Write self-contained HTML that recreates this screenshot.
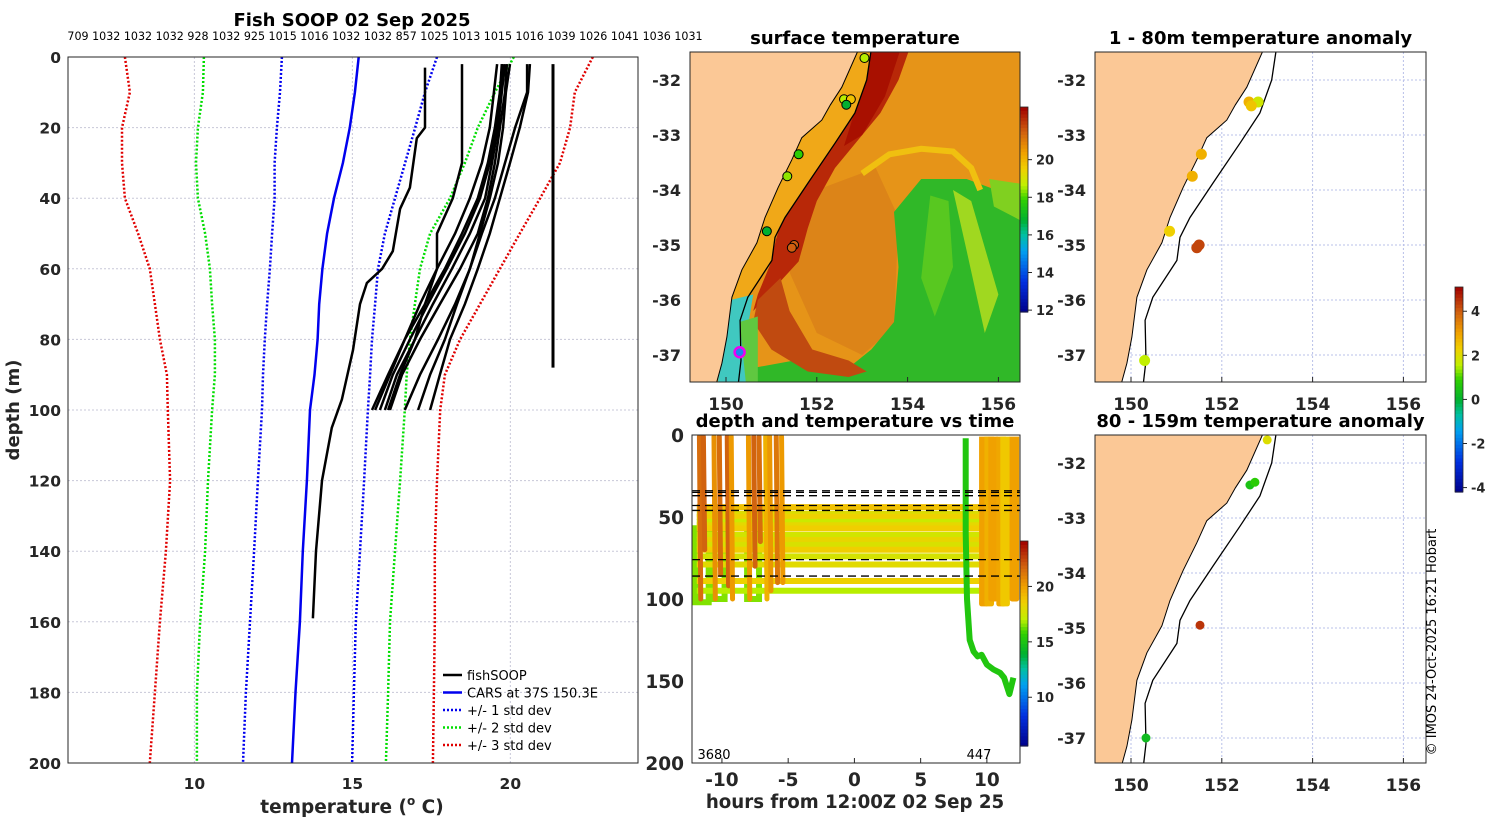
<!DOCTYPE html>
<html><head><meta charset="utf-8">
<style>
html,body{margin:0;padding:0;background:#fff;}
svg{display:block;font-family:"DejaVu Sans","Liberation Sans",sans-serif;}
.tk{font-size:15.5px;font-weight:bold;fill:#262626;}
.ttl{font-size:18px;font-weight:bold;fill:#000;}
</style></head>
<body>
<svg id="fig" width="1500" height="820" viewBox="0 0 1500 820" xmlns="http://www.w3.org/2000/svg">
<defs>
<clipPath id="c1"><rect x="690" y="52" width="330" height="330"/></clipPath>
<clipPath id="c2"><rect x="1095" y="52" width="331" height="330"/></clipPath>
<clipPath id="c3"><rect x="1095" y="435" width="331" height="328"/></clipPath>
<clipPath id="ct"><rect x="692" y="435" width="328" height="328"/></clipPath>
</defs>
<g id="main"></g>
<g id="map1"></g>
<g id="tchart"></g>
<g id="map2"></g>
<g id="map3"></g>
<text x="1436" y="642" transform="rotate(-90 1436 642)" text-anchor="middle" font-size="13" fill="#000">© IMOS 24-Oct-2025 16:21 Hobart</text>
</svg>
<script>
// ---------- data ----------
const depths = [0,10,20,30,40,50,60,70,80,90,100,120,140,160,180,200];
const carsMean = [15.2,15.08,14.92,14.7,14.42,14.2,14.05,13.95,13.9,13.8,13.66,13.56,13.43,13.34,13.2,13.09];
const std1Lo = [12.77,12.71,12.61,12.54,12.54,12.46,12.39,12.30,12.23,12.17,12.14,12.01,11.89,11.76,11.63,11.54];
const std1Hi = [17.68,17.30,16.99,16.67,16.35,16.03,15.81,15.72,15.62,15.56,15.49,15.37,15.24,15.11,15.05,14.99];
const std2Lo = [10.30,10.27,10.11,10.05,10.11,10.34,10.49,10.56,10.65,10.65,10.56,10.43,10.34,10.18,10.08,10.08];
const std2Hi = [20.11,19.51,18.97,18.56,18.09,17.46,17.14,16.98,16.82,16.72,16.66,16.51,16.35,16.19,16.13,16.06];
const std3Lo = [7.80,7.96,7.71,7.71,7.80,8.22,8.59,8.75,8.91,9.13,9.16,9.23,9.10,8.91,8.75,8.59];
const std3Hi = [22.61,22.04,21.89,21.57,20.94,20.30,19.67,19.04,18.41,17.93,17.78,17.68,17.61,17.61,17.58,17.55];
const profDepths = [2,10,20,30,40,50,60,70,80,90,100];
const profiles = [
 [19.58,19.48,19.35,19.10,18.72,18.25,17.68,17.14,16.66,16.19,15.72],
 [19.73,19.67,19.58,19.35,19.04,18.56,17.99,17.39,16.82,16.28,15.87],
 [19.83,19.73,19.61,19.42,19.20,18.72,18.15,17.55,16.98,16.41,16.03],
 [19.89,19.83,19.67,19.51,19.29,18.97,18.41,17.77,17.14,16.57,16.19],
 [19.77,19.67,19.51,19.29,18.97,18.47,17.93,17.30,16.66,16.13,15.62],
 [20.53,20.53,20.15,19.83,19.51,19.10,18.72,18.25,17.71,17.14,16.66],
 [20.62,20.56,20.30,19.99,19.67,19.35,18.97,18.56,18.09,17.77,17.46],
 [19.99,19.86,19.77,19.61,19.35,19.04,18.72,18.31,17.93,17.46,17.08],
 [18.47,18.47,18.47,18.47,18.18,17.68,17.68,17.30,16.98,16.51,16.13]
];
const profADepth = [3,20,23,37,43,55,60,64,70,83,97,105,120,140,159];
const profATemp = [17.30,17.30,17.04,16.82,16.51,16.28,15.94,15.46,15.24,15.02,14.67,14.35,14.04,13.85,13.75];
const profCDepth = [2,88];
const profCTemp = [21.35,21.35];
const headerCounts = ["709","1032","1032","1032","928","1032","925","1015","1016","1032","1032","857","1025","1013","1015","1016","1039","1026","1041","1036","1031"];
const tempTicks = [10,15,20];
const depthTicks = [0,20,40,60,80,100,120,140,160,180,200];

// maps
const coastLon = [152.95,152.89,152.55,152.3,152.11,151.67,151.45,151.15,150.86,150.68,150.35,150.13,150.02,149.91,149.76];
const coastLat = [-31.3,-31.5,-32.13,-32.45,-32.73,-33.05,-33.45,-33.95,-34.5,-34.96,-35.45,-35.95,-36.67,-37.15,-37.6];
const isoLon = [153.22,153.19,153.1,152.84,152.4,151.81,151.3,151.08,151.01,150.48,150.31,150.33,150.26];
const isoLat = [-31.3,-31.5,-32,-32.6,-33.15,-33.87,-34.5,-34.86,-35.28,-35.95,-36.37,-37.1,-37.6];
const sstLon = [153.05,152.6,152.75,152.65,151.6,151.35,150.9,151.5,151.45];
const sstLat = [-31.6,-32.35,-32.35,-32.45,-33.35,-33.75,-34.75,-35.0,-35.05];
const sstVal = [18.6,18.6,19.8,16.8,17.8,18.4,16.8,21.5,21.5];
const anomLon1 = [152.6,152.8,152.65,151.55,151.35,150.85,151.5,151.45,150.3];
const anomLat1 = [-32.4,-32.4,-32.47,-33.35,-33.75,-34.75,-35.0,-35.05,-37.1];
const anomVal1 = [2.8,1.8,2.5,2.8,2.8,2.3,4.3,4.3,1.6];
const anomLon2 = [153.0,152.62,152.73,151.52,150.33];
const anomLat2 = [-31.58,-32.4,-32.35,-34.95,-37.0];
const anomVal2 = [2.0,0.5,0.8,4.5,0.3];
const lonTicks = [150,152,154,156];
const latTicks = [-32,-33,-34,-35,-36,-37];
const sstTicks = [12,14,16,18,20];
const anomTicks = [-4,-2,0,2,4];

// depth-time chart
const towDepth = [44,48,50,53,55,57,61,64,67,70,74,79,89,95];
const towTemp = [19.0,18.0,18.5,17.4,18.2,18.6,17.6,18.3,17.8,18.6,17.7,18.1,18.5,17.0];
const diveHour = [-11.7,-11.4,-10.6,-10.2,-9.6,-9.3,-8.0,-7.6,-7.2,-6.7,-6.4,-5.9,-5.5];
const diveBottom = [100,70,100,85,92,100,100,80,65,100,95,90,90];
const diveTemp = [21.5,21.8,20.5,21.5,21.8,20.2,20.2,21.8,21.5,19.5,20.3,21.2,20.2];
const loopStart = [-12.0,-10.7,-8.1];
const loopEnd = [-11.0,-9.8,-7.2];
const loopDepth = [102,100,100];
const rDiveHour = [9.6,10.0,10.3,10.9,11.2,11.9];
const rDiveBottom = [103,103,100,103,103,100];
const rDiveTemp = [20,19.5,20,19.8,18.8,20];
const greenHour = [8.4,8.4,8.5,8.7,9.0,9.3,9.6,10.0,10.5,11.0,11.3,11.7,12.0];
const greenDepth = [2,60,100,125,132,135,134,140,143,145,148,158,148];
const dashDepth = [34,35,37,43,46,76,86];
const hourTicks = [-10,-5,0,5,10];
const tDepthTicks = [0,50,100,150,200];
const tcbTicks = [10,15,20];

// ---------- helpers ----------
const NS="http://www.w3.org/2000/svg";
function mk(parent,tag,attrs,name,txt){
  const e=document.createElementNS(NS,tag);
  for(const k in attrs){ if(k==='font-size') e.style.fontSize=attrs[k]+'px'; else e.setAttribute(k,attrs[k]); }
  
  
  if(txt!==undefined) e.textContent=txt;
  parent.appendChild(e); return e;
}
const stops=[[0,[0,0,138]],[0.15,[0,48,224]],[0.3,[0,160,240]],[0.38,[0,192,160]],[0.45,[0,176,48]],[0.55,[48,208,0]],[0.62,[192,240,0]],[0.7,[240,208,0]],[0.78,[240,160,0]],[0.88,[208,96,16]],[1,[160,0,0]]];
function cmap(f){
  f=Math.max(0,Math.min(1,f));
  for(let i=1;i<stops.length;i++){ if(f<=stops[i][0]){const a=stops[i-1],b=stops[i];const t=(f-a[0])/(b[0]-a[0]);
    const c=a[1].map((v,j)=>Math.round(v+(b[1][j]-v)*t));return `rgb(${c[0]},${c[1]},${c[2]})`;}}
  return 'rgb(160,0,0)';
}
function poly(xs,ys){return xs.map((x,i)=>(i?'L':'M')+x.toFixed(1)+','+ys[i].toFixed(1)).join('');}

// ---------- main profile chart ----------
(function(){
  const g=document.getElementById('main');
  const X0=68,X1=638,Y0=57,Y1=763,tMin=6,tMax=24.04;
  const sx=t=>X0+(t-tMin)/(tMax-tMin)*(X1-X0);
  const sy=d=>Y0+d/200*(Y1-Y0);
  tempTicks.forEach(t=>{mk(g,'line',{x1:sx(t),x2:sx(t),y1:Y0,y2:Y1,stroke:'#c8c8d8','stroke-dasharray':'2,2','stroke-width':1},'x-gridline');
    mk(g,'text',{x:sx(t),y:789,'text-anchor':'middle',class:'tk'},'x-tick-label',String(t));});
  depthTicks.forEach(d=>{ if(d>0&&d<200) mk(g,'line',{x1:X0,x2:X1,y1:sy(d),y2:sy(d),stroke:'#c8c8d8','stroke-dasharray':'2,2','stroke-width':1},'y-gridline');
    mk(g,'text',{x:61,y:sy(d)+6,'text-anchor':'end',class:'tk'},'y-tick-label',String(d));});
  const lines=[[std3Lo,'#e00000','red-std3-low'],[std3Hi,'#e00000','red-std3-high'],[std2Lo,'#00dd00','green-std2-low'],[std2Hi,'#00dd00','green-std2-high'],[std1Lo,'#0000ee','blue-std1-low'],[std1Hi,'#0000ee','blue-std1-high']];
  lines.forEach(([arr,c,n])=>mk(g,'path',{d:poly(arr.map(sx),depths.map(sy)),fill:'none',stroke:c,'stroke-width':2.5,'stroke-dasharray':'2,2'},n));
  mk(g,'path',{d:poly(carsMean.map(sx),depths.map(sy)),fill:'none',stroke:'#0000ee','stroke-width':2.5},'cars-line');
  profiles.forEach(p=>mk(g,'path',{d:poly(p.map(sx),profDepths.map(sy)),fill:'none',stroke:'#000','stroke-width':2.5},'fishsoop-profile'));
  mk(g,'path',{d:poly(profATemp.map(sx),profADepth.map(sy)),fill:'none',stroke:'#000','stroke-width':2.5},'fishsoop-profile-deep');
  mk(g,'path',{d:poly(profCTemp.map(sx),profCDepth.map(sy)),fill:'none',stroke:'#000','stroke-width':3},'fishsoop-profile-warm');
  mk(g,'rect',{x:X0,y:Y0,width:X1-X0,height:Y1-Y0,fill:'none',stroke:'#262626','stroke-width':1},'plot-frame');
  mk(g,'text',{x:352,y:26,'text-anchor':'middle',class:'ttl'},'chart-title','Fish SOOP 02 Sep 2025');
  mk(g,'text',{x:385,y:40,'text-anchor':'middle','font-size':11.1,fill:'#000'},'sample-counts',headerCounts.join(' '));
  const xl=mk(g,'text',{x:352,y:813,'text-anchor':'middle',class:'tk','font-size':18.5},'x-axis-title');
  xl.innerHTML='temperature (<tspan font-size="12" dy="-8">o</tspan><tspan dy="8"> C)</tspan>';
  mk(g,'text',{x:19,y:410,'text-anchor':'middle',class:'tk','font-size':18,transform:'rotate(-90 19 410)'},'y-axis-title','depth (m)');
  const leg=[['#000','','fishSOOP'],['#0000ee','','CARS at 37S 150.3E'],['#0000ee','2,2','+/- 1 std dev'],['#00dd00','2,2','+/- 2 std dev'],['#e00000','2,2','+/- 3 std dev']];
  leg.forEach((l,i)=>{const y=675+i*17.5;
    mk(g,'line',{x1:443,x2:462,y1:y,y2:y,stroke:l[0],'stroke-width':2.5,'stroke-dasharray':l[1]||'none'},'legend-swatch');
    mk(g,'text',{x:467,y:y+5,'font-size':13,fill:'#000'},'legend-entry',l[2]);});
})();

// ---------- maps ----------
function drawMap(g,clip,X0,Y0,W,H,lon150x,lat32y,opts){
  const sx=lon=>lon150x+(lon-150)*45.4, sy=lat=>lat32y-(lat+32)*55;
  const cg=mk(g,'g',{'clip-path':`url(#${clip})`},'map-area');
  mk(cg,'rect',{x:X0,y:Y0,width:W,height:H,fill:opts.ocean},'ocean');
  if(opts.sst) opts.sst(cg,sx,sy);
  if(opts.grid){
    lonTicks.forEach(l=>mk(cg,'line',{x1:sx(l),x2:sx(l),y1:Y0,y2:Y0+H,stroke:'#b8c0e8','stroke-dasharray':'2,2'},'lon-gridline'));
    latTicks.forEach(l=>mk(cg,'line',{x1:X0,x2:X0+W,y1:sy(l),y2:sy(l),stroke:'#b8c0e8','stroke-dasharray':'2,2'},'lat-gridline'));
  }
  const lx=coastLon.map(sx).concat([X0-5,X0-5]), ly=coastLat.map(sy).concat([Y0+H+20,Y0-20]);
  mk(cg,'path',{d:poly(lx,ly)+'Z',fill:'#fbc896',stroke:'#000','stroke-width':1},'land');
  mk(cg,'path',{d:poly(isoLon.map(sx),isoLat.map(sy)),fill:'none',stroke:'#000','stroke-width':1.3},'shelf-contour');
  opts.dots(cg,sx,sy);
  mk(g,'rect',{x:X0,y:Y0,width:W,height:H,fill:'none',stroke:'#262626'},'map-frame');
  lonTicks.forEach(l=>{mk(g,'line',{x1:sx(l),x2:sx(l),y1:Y0+H,y2:Y0+H-5,stroke:'#262626'},'lon-tick');
    mk(g,'text',{x:sx(l),y:Y0+H+28,'text-anchor':'middle',class:'tk','font-size':17},'lon-tick-label',String(l));});
  latTicks.forEach(l=>mk(g,'text',{x:X0-9,y:sy(l)+6,'text-anchor':'end',class:'tk','font-size':16},'lat-tick-label',String(l)));
  mk(g,'text',{x:X0+W/2,y:Y0-8,'text-anchor':'middle',class:'ttl'},'map-title',opts.title);
}
function colorbar(g,x,y0,y1,vmin,vmax,ticks,name){
  const n=60,h=(y1-y0)/n;
  for(let i=0;i<n;i++) mk(g,'rect',{x:x,y:y1-(i+1)*h,width:8,height:h+0.6,fill:cmap((i+0.5)/n)},name+'-step');
  mk(g,'rect',{x:x,y:y0,width:8,height:y1-y0,fill:'none',stroke:'#262626','stroke-width':0.8},name+'-frame');
  ticks.forEach(t=>{const y=y1-(t-vmin)/(vmax-vmin)*(y1-y0);
    mk(g,'line',{x1:x+8,x2:x+12,y1:y,y2:y,stroke:'#262626'},name+'-tick');
    mk(g,'text',{x:x+16,y:y+5,class:'tk','font-size':13},name+'-label',String(t));});
}
const sstMin=11.9,sstMax=22.8, anMin=-4.2, anMax=5.1;
function sstBackground(cg,sx,sy){
  const P=(lons,lats,fill,n)=>mk(cg,'path',{d:poly(lons.map(sx),lats.map(sy))+'Z',fill:fill},n);
  P([152.0,153.3,153.8,153.7,153.0,152.0,151.4],[-34.0,-33.6,-34.5,-36.5,-37.0,-36.6,-35.5],'#dc8418','eddy-core');
  P([153.7,154.3,155.3,156.6,156.6,153.4,152.6,153.2,153.7,153.8],[-34.4,-33.8,-33.8,-34.2,-37.6,-37.6,-37.3,-36.9,-36.4,-35.4],'#30b828','cool-water');
  P([154.5,154.9,155.0,154.6,154.3],[-34.1,-34.2,-35.4,-36.3,-35.6],'#58c820','cool-streak');
  P([155.0,155.4,156.0,155.7,155.3],[-34.0,-34.2,-35.9,-36.6,-35.1],'#a0d820','cool-streak-2');
  P([155.8,156.6,156.6,155.9],[-33.8,-33.9,-34.6,-34.3],'#80d020','cool-streak-3');
  P([150.5,151.5,152.6,153.4,153.4,150.4],[-37.25,-37.1,-37.3,-37.3,-37.6,-37.6],'#30b828','south-cool');
  mk(cg,'path',{d:poly([153.0,153.6,154.3,155.0,155.4,155.6].map(sx),[-33.7,-33.35,-33.25,-33.3,-33.6,-34.0].map(sy)),fill:'none',stroke:'#f0c010','stroke-width':6},'eddy-front');
  P([153.05,153.0,152.9,152.6,152.2,151.7,151.3,151.1,151.0,150.7,150.6,151.6,151.7,151.8,152.0,152.4,152.9,153.4,153.8,154.1],
    [-31.3,-31.5,-32.0,-32.6,-33.1,-33.8,-34.4,-34.9,-35.3,-35.9,-36.2,-35.3,-35.0,-34.7,-34.2,-33.6,-33.1,-32.6,-32.0,-31.3],'#b82808','current-band');
  P([153.1,153.9,153.5,153.0,152.6,152.9],[-31.3,-31.3,-32.3,-33.0,-33.2,-32.4],'#a81000','current-core');
  P([150.7,151.2,151.4,151.9,152.7,153.1,152.7,151.8,151.0,150.6],[-36.0,-35.6,-36.2,-36.9,-37.1,-37.3,-37.4,-37.3,-36.9,-36.4],'#c04a10','eddy-rim');
  const sLon=coastLon.concat(isoLon.slice().reverse()), sLat=coastLat.concat(isoLat.slice().reverse());
  P(sLon,sLat,'#f0a818','shelf-water');
  P([150.1,150.6,150.5,150.45,149.8],[-36.0,-35.9,-36.4,-37.6,-37.6],'#40c8c0','coastal-cold');
  P([150.3,150.7,150.7,150.45],[-36.4,-36.3,-37.6,-37.6],'#60c840','coastal-green');
}
(function(){
  const g=document.getElementById('map1');
  drawMap(g,'c1',690,52,330,330,726,80,{ocean:'#e69418',title:'surface temperature',sst:sstBackground,grid:false,
    dots:(cg,sx,sy)=>{sstLon.forEach((l,i)=>mk(cg,'circle',{cx:sx(l),cy:sy(sstLat[i]),r:4.5,fill:cmap((sstVal[i]-sstMin)/(sstMax-sstMin)),stroke:'#000','stroke-width':1},'profile-location'));
      mk(cg,'circle',{cx:sx(150.3),cy:sy(-36.95),r:5,fill:'#2080f0',stroke:'#f000f0','stroke-width':2.5},'current-location');}});
  colorbar(g,1020,107,312,sstMin,sstMax,sstTicks,'sst-colorbar');
})();
(function(){
  const g=document.getElementById('map2');
  drawMap(g,'c2',1095,52,331,330,1131,80,{ocean:'#fff',title:'1 - 80m temperature anomaly',grid:true,
    dots:(cg,sx,sy)=>anomLon1.forEach((l,i)=>mk(cg,'circle',{cx:sx(l),cy:sy(anomLat1[i]),r:5.5,fill:cmap((anomVal1[i]-anMin)/(anMax-anMin))},'anomaly-point'))});
  colorbar(g,1455,287,492,anMin,anMax,anomTicks,'anomaly-colorbar');
})();
(function(){
  const g=document.getElementById('map3');
  drawMap(g,'c3',1095,435,331,328,1131,463,{ocean:'#fff',title:'80 - 159m temperature anomaly',grid:true,
    dots:(cg,sx,sy)=>anomLon2.forEach((l,i)=>mk(cg,'circle',{cx:sx(l),cy:sy(anomLat2[i]),r:4.5,fill:cmap((anomVal2[i]-anMin)/(anMax-anMin))},'anomaly-point'))});
})();

// ---------- depth-time chart ----------
(function(){
  const g=document.getElementById('tchart');
  const X0=692,X1=1020,Y0=435,Y1=763,hMin=-12.26,hMax=12.5,tMin=5.6,tMax=24.1;
  const sx=h=>X0+(h-hMin)/(hMax-hMin)*(X1-X0), sy=d=>Y0+d/200*(Y1-Y0);
  const col=t=>cmap((t-tMin)/(tMax-tMin));
  const cg=mk(g,'g',{'clip-path':'url(#ct)'},'plot-area');
  loopStart.forEach((h,i)=>mk(cg,'path',{d:`M${sx(h)},${sy(55)}L${sx(h)},${sy(loopDepth[i])}L${sx(loopEnd[i])},${sy(loopDepth[i])}L${sx(loopEnd[i])},${sy(55)}`,fill:'none',stroke:col(16.5),'stroke-width':6},'dive-bottom'));
  towDepth.forEach((d,i)=>mk(cg,'line',{x1:sx(-11.9),x2:sx(12.0),y1:sy(d),y2:sy(d),stroke:col(towTemp[i]),'stroke-width':6},'tow-track'));
  diveHour.forEach((h,i)=>mk(cg,'path',{d:`M${sx(h)},${sy(1)}L${sx(h+0.1)},${sy(diveBottom[i])}`,fill:'none',stroke:col(diveTemp[i]),'stroke-width':5,'stroke-linecap':'round'},'dive-trace'));
  rDiveHour.forEach((h,i)=>mk(cg,'path',{d:`M${sx(h)},${sy(1)}L${sx(h)},${sy(rDiveBottom[i])}L${sx(h+0.35)},${sy(rDiveBottom[i])}L${sx(h+0.35)},${sy(1)}`,fill:'none',stroke:col(rDiveTemp[i]),'stroke-width':5,'stroke-linejoin':'round'},'dive-trace-late'));
  mk(cg,'path',{d:poly(greenHour.map(sx),greenDepth.map(sy)),fill:'none',stroke:col(15.2),'stroke-width':6,'stroke-linejoin':'round'},'deep-dive-trace');
  dashDepth.forEach(d=>mk(cg,'line',{x1:X0,x2:X1,y1:sy(d),y2:sy(d),stroke:'#000','stroke-width':1.3,'stroke-dasharray':'8,5'},'layer-boundary'));
  mk(g,'rect',{x:X0,y:Y0,width:X1-X0,height:Y1-Y0,fill:'none',stroke:'#262626'},'plot-frame');
  hourTicks.forEach(h=>{mk(g,'line',{x1:sx(h),x2:sx(h),y1:Y1,y2:Y1-5,stroke:'#262626'},'x-tick');
    mk(g,'text',{x:sx(h),y:Y1+23,'text-anchor':'middle',class:'tk','font-size':18.5},'x-tick-label',String(h));});
  tDepthTicks.forEach(d=>mk(g,'text',{x:684,y:sy(d)+7,'text-anchor':'end',class:'tk','font-size':18.5},'y-tick-label',String(d)));
  mk(g,'text',{x:714,y:759,'text-anchor':'middle','font-size':13,fill:'#000'},'count-label','3680');
  mk(g,'text',{x:979,y:759,'text-anchor':'middle','font-size':13,fill:'#000'},'count-label','447');
  mk(g,'text',{x:855,y:427,'text-anchor':'middle',class:'ttl'},'chart-title','depth and temperature vs time');
  mk(g,'text',{x:855,y:808,'text-anchor':'middle',class:'tk','font-size':18.2},'x-axis-title','hours from 12:00Z 02 Sep 25');
  colorbar(g,1020,541,746,tMin,tMax,tcbTicks,'time-colorbar');
})();
</script>
</body></html>
